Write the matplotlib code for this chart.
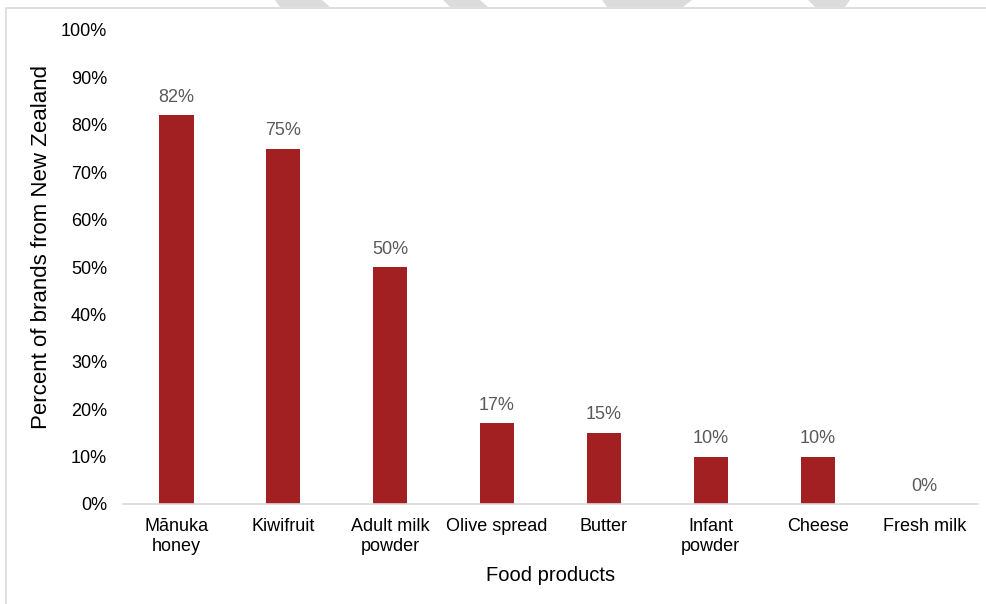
import matplotlib.pyplot as plt
from matplotlib.patches import Polygon, Rectangle

plt.rcParams['font.family'] = ['Liberation Sans', 'DejaVu Sans']

products = ['Mānuka\nhoney', 'Kiwifruit', 'Adult milk\npowder', 'Olive spread',
            'Butter', 'Infant\npowder', 'Cheese', 'Fresh milk']
share_nz = [82, 75, 50, 17, 15, 10, 10, 0]
y_ticks = [0, 10, 20, 30, 40, 50, 60, 70, 80, 90, 100]

bar_color = '#A21F22'
W, H = 987, 604

fig = plt.figure(figsize=(W / 100, H / 100), dpi=100)

# light frame around the chart area
fig.patches.append(Rectangle((6 / W, -0.01), 1.0, 1 - 8 / H + 0.01,
                             transform=fig.transFigure, fill=False,
                             edgecolor='#d9d9d9', linewidth=1.2))

# grey diagonal stripes peeking in above the frame
stripes = [
    [(275, 0), (322, 0), (330, 7), (280, 7)],
    [(443, 0), (480, 0), (488, 7), (450, 7)],
    [(602, 0), (692, 0), (683, 7), (607, 7)],
    [(808, 0), (850, 0), (845, 7), (815, 7)],
]
for pts in stripes:
    fig.patches.append(Polygon([(x / W, 1 - y / H) for x, y in pts],
                               closed=True, transform=fig.transFigure,
                               facecolor='#dcdcdc', edgecolor='none'))

ax = fig.add_axes([123 / W, 1 - 504 / H, (978 - 123) / W, (504 - 30) / H])

x = range(len(products))
bars = ax.bar(x, share_nz, width=0.32, color=bar_color, zorder=2)
for xi, v in zip(x, share_nz):
    ax.text(xi, v + 2, f'{v}%', ha='center', va='bottom',
            fontsize=13, color='#595959')

ax.set_xlim(-0.5, len(products) - 0.5)
ax.set_ylim(0, 100)
ax.set_yticks(y_ticks)
ax.set_yticklabels([f'{t}%' for t in y_ticks])
ax.set_xticks(list(x))
ax.set_xticklabels(products, linespacing=1.25)
ax.tick_params(axis='both', length=0, labelsize=13, colors='#000000')
ax.tick_params(axis='y', pad=11.5)
ax.tick_params(axis='x', pad=10)

for side in ['top', 'right', 'left']:
    ax.spines[side].set_visible(False)
ax.spines['bottom'].set_color('#d9d9d9')
ax.spines['bottom'].set_linewidth(1.2)

ax.set_xlabel('Food products', fontsize=14.5, labelpad=8)
ax.set_ylabel('Percent of brands from New Zealand', fontsize=16)
ax.yaxis.set_label_coords(-0.083, 0.542)

fig.savefig('out.png', dpi=100)
